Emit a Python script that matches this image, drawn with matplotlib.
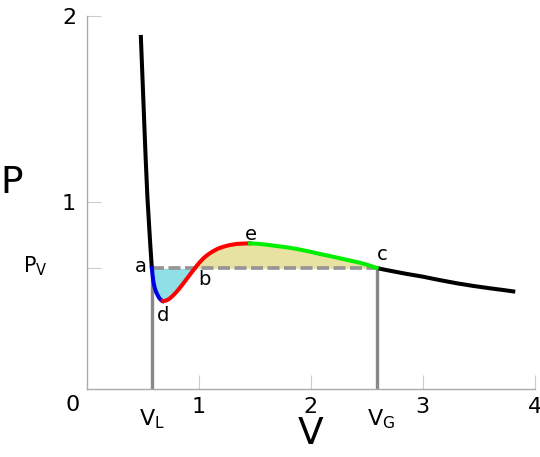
import numpy as np
import matplotlib
matplotlib.use('Agg')
import matplotlib.pyplot as plt

# isotherm, split by colour
V_left = [0.479, 0.490, 0.501, 0.512, 0.523, 0.538, 0.553, 0.565, 0.578]
P_left = [1.897, 1.730, 1.563, 1.395, 1.230, 1.030, 0.880, 0.762, 0.647]

V_ad = [0.578, 0.585, 0.592, 0.602, 0.615, 0.630, 0.645, 0.660, 0.675]
P_ad = [0.647, 0.605, 0.574, 0.545, 0.521, 0.502, 0.486, 0.476, 0.471]

V_de = [0.675, 0.695, 0.715, 0.741, 0.770, 0.800, 0.830, 0.860, 0.890, 0.920, 0.964, 1.000,
        1.039, 1.080, 1.128, 1.170, 1.217, 1.275, 1.337, 1.400, 1.456]
P_de = [0.471, 0.472, 0.476, 0.486, 0.502, 0.521, 0.543, 0.566, 0.590, 0.614, 0.648, 0.675,
        0.700, 0.720, 0.739, 0.752, 0.762, 0.771, 0.777, 0.779, 0.780]

V_ec = [1.456, 1.520, 1.590, 1.665, 1.770, 1.874, 1.980, 2.082, 2.170, 2.261, 2.350, 2.440, 2.515, 2.588]
P_ec = [0.780, 0.778, 0.774, 0.768, 0.760, 0.750, 0.737, 0.723, 0.712, 0.700, 0.688, 0.676, 0.663, 0.648]

V_right = [2.588, 2.650, 2.710, 2.850, 3.006, 3.110, 3.216, 3.305, 3.450, 3.603, 3.720, 3.827]
P_right = [0.648, 0.640, 0.633, 0.617, 0.601, 0.588, 0.576, 0.566, 0.552, 0.539, 0.530, 0.521]

P_V = 0.646
V_L = 0.577
V_G = 2.588

fig = plt.figure(figsize=(5.4, 4.57), dpi=100)
ax = fig.add_axes([0.1615, 0.149, 0.8285, 0.8166])

# Maxwell areas
V_loop = np.array(V_ad + V_de[1:] + V_ec[1:])
P_loop = np.array(P_ad + P_de[1:] + P_ec[1:])
ax.fill_between(V_loop, P_loop, P_V, where=(P_loop <= P_V + 0.003) & (V_loop < 1.2),
                color='#8fe0e6', lw=0, interpolate=True)
ax.fill_between(V_loop, P_loop, P_V, where=(P_loop >= P_V - 0.003) & (V_loop > 0.7),
                color='#e8e2a2', lw=0, interpolate=True)

# coexistence line and volume markers
ax.plot([V_L, V_G], [P_V, P_V], color='#969696', lw=2.7, dashes=(3.2, 1.2))
ax.plot([V_L, V_L], [0, P_V], color='#888888', lw=2.4, solid_capstyle='butt')
ax.plot([V_G, V_G], [0, P_V], color='#888888', lw=2.4, solid_capstyle='butt')

lw = 2.9
ax.plot(V_left, P_left, color='black', lw=lw, solid_capstyle='butt', solid_joinstyle='round')
ax.plot(V_right, P_right, color='black', lw=lw, solid_capstyle='butt', solid_joinstyle='round')
ax.plot(V_ad, P_ad, color='#0000e6', lw=lw, solid_joinstyle='round')
ax.plot(V_de, P_de, color='#ff0000', lw=lw, solid_joinstyle='round')
ax.plot(V_ec, P_ec, color='#00ee00', lw=lw, solid_joinstyle='round')

ax.set_xlim(0, 4)
ax.set_ylim(0, 2)
for s in ['top', 'right']:
    ax.spines[s].set_visible(False)
for s in ['left', 'bottom']:
    ax.spines[s].set_color('#aaaaaa')
    ax.spines[s].set_linewidth(1.0)

ax.set_xticks([1, 2, 3, 4])
ax.set_xticklabels(['1', '2', '3', '4'])
ax.set_yticks([P_V, 1, 2])
ax.set_yticklabels(['', '1', '2'])
ax.tick_params(direction='in', length=10, width=0.8, color='#cccccc', labelsize=16)
ax.tick_params(axis='x', pad=6)
ax.tick_params(axis='y', pad=8)

ax.text(-0.127, -0.086, '0', fontsize=16, ha='center', va='center', clip_on=False)
ax.text(V_L, -0.165, r'V$_\mathrm{L}$', fontsize=16, ha='center', va='center', clip_on=False)
ax.text(2.63, -0.165, r'V$_\mathrm{G}$', fontsize=16, ha='center', va='center', clip_on=False)
ax.text(-0.46, P_V + 0.01, r'P$_\mathrm{V}$', fontsize=15, ha='center', va='center', clip_on=False)
ax.text(2.0, -0.24, 'V', fontsize=27, ha='center', va='center', clip_on=False)
ax.text(-0.672, 1.105, 'P', fontsize=27, ha='center', va='center', clip_on=False)

for lab, x, y in [('a', 0.479, 0.655), ('b', 1.045, 0.584), ('d', 0.675, 0.396),
                  ('e', 1.462, 0.825), ('c', 2.634, 0.718)]:
    ax.text(x, y, lab, fontsize=14, ha='center', va='center')

fig.savefig('out.png', dpi=100)
